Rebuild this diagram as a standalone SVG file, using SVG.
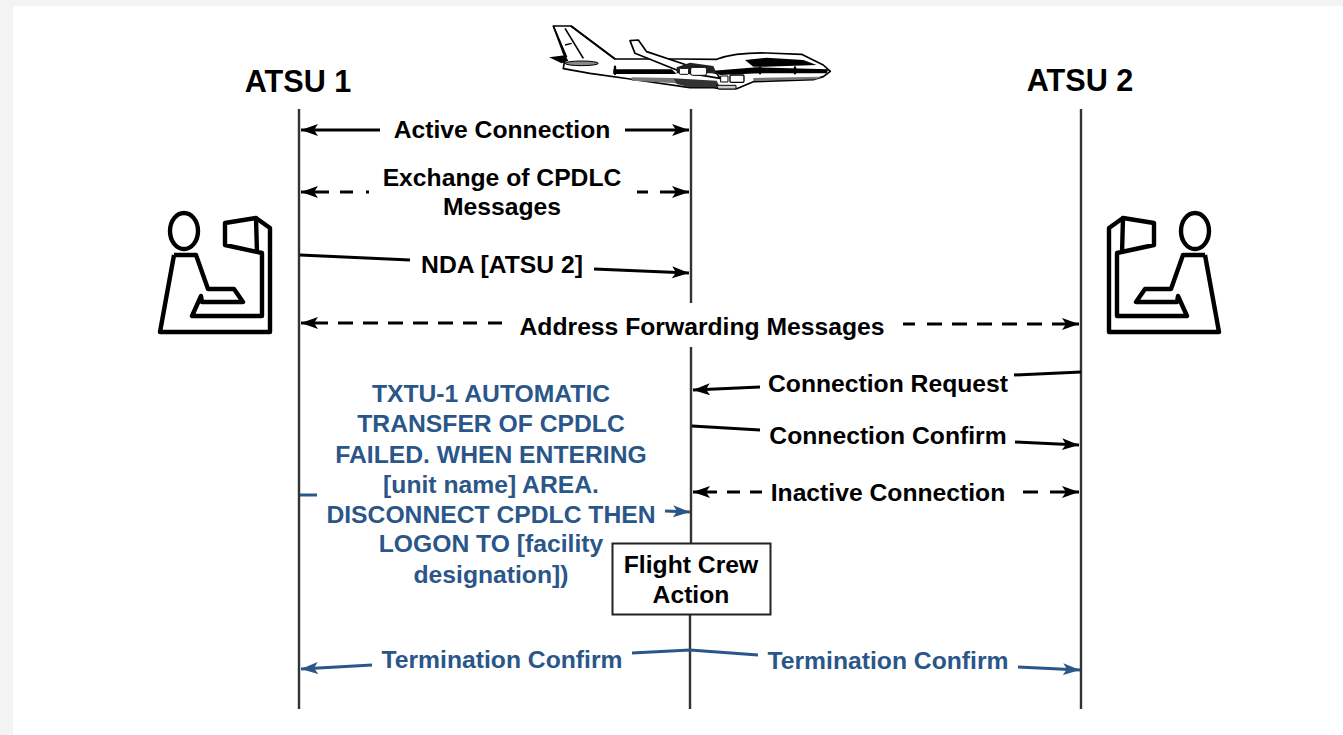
<svg xmlns="http://www.w3.org/2000/svg" width="1343" height="735" viewBox="0 0 1343 735">
<style>
text{font-family:"Liberation Sans",Arial,sans-serif;font-weight:700;text-anchor:middle}
.k{fill:#000;font-size:24.7px}
.h{fill:#000;font-size:30.6px}
.b{fill:#2a5689;font-size:24.7px}
.life{stroke:#333;stroke-width:2.4;fill:none}
.c{stroke:#000;stroke-width:3;fill:none}
.cb{stroke:#2a5689;stroke-width:3;fill:none}
.ico{stroke:#000;stroke-width:4.4;fill:none;stroke-linejoin:round}
</style>
<defs>
<marker id="a" markerUnits="userSpaceOnUse" markerWidth="18" markerHeight="14" refX="17" refY="6" orient="auto"><path d="M0 0L17 6L0 12L4 6Z" fill="#000"/></marker>
<marker id="ab" markerUnits="userSpaceOnUse" markerWidth="18" markerHeight="14" refX="17" refY="6" orient="auto"><path d="M0 0L17 6L0 12L4 6Z" fill="#2a5689"/></marker>
<g id="person">
<ellipse cx="185" cy="231" rx="14" ry="18"/>
<path d="M175 255H197L209 289H235L244 302H203L202 296L193 316H263V253L226 245V223L257 218L258 253"/>
<path d="M257 218L271 228V332H161L175 255"/>
</g>
</defs>
<rect width="1343" height="735" fill="#f3f3f3"/>
<rect x="13" y="6" width="1330" height="729" fill="#fff"/>

<g id="connectors">
<path class="life" d="M299 109V709"/>
<path class="life" d="M691 109V303M691 347V543M690 615V709"/>
<path class="life" d="M1081 109V709"/>
<path class="c" marker-end="url(#a)" d="M380 130H301"/>
<path class="c" marker-end="url(#a)" d="M625 130H689"/>
<path class="c" marker-end="url(#a)" d="M369 192H366M353 192H340M329 192H301"/>
<path class="c" marker-end="url(#a)" d="M637 192H648M660 192H689"/>
<path class="c" d="M300 255L410 260"/>
<path class="c" marker-end="url(#a)" d="M594 269L689 273"/>
<path class="c" marker-end="url(#a)" d="M502 323H488M477 323H463M453 323H438M428 323H413M403 323H388M378 323H363M353 323H338M328 323H301"/>
<path class="c" marker-end="url(#a)" d="M903 324H915M927 324H942M952 324H967M977 324H992M1002 324H1017M1027 324H1042M1052 324H1079"/>
<path class="c" marker-end="url(#a)" d="M760 387L693 390"/>
<path class="c" d="M1014 375L1081 372"/>
<path class="c" d="M692 426L760 430"/>
<path class="c" marker-end="url(#a)" d="M1015 442L1079 445"/>
<path class="c" marker-end="url(#a)" d="M762 492H750M740 492H727M717 492H693"/>
<path class="c" marker-end="url(#a)" d="M1023 492H1038M1050 492H1079"/>
<path class="cb" d="M300 495L317 495"/>
<path class="cb" marker-end="url(#ab)" d="M665 511L690 512"/>
<path class="cb" marker-end="url(#ab)" d="M372 665L301 669"/>
<path class="cb" d="M632 653L690 650L758 655"/>
<path class="cb" marker-end="url(#ab)" d="M1018 667L1080 670"/>
</g>

<g id="airplane">
<g transform="translate(530 10) scale(.3333)" stroke-linejoin="round">
<path fill="#fff" stroke="#000" stroke-width="5" d="M70 48H123L255 147H450L560 148C600 133 650 128 710 129L815 133L845 148L880 165L901 184L880 200L850 209L670 215L620 236H570L550 233H480L300 207L180 190L100 176L105 142Z"/>
<path d="M70 48L110 142M105 55L160 145M123 48L255 147" fill="none" stroke="#000" stroke-width="5"/>
<path d="M105 105L125 100" stroke="#000" stroke-width="4"/>
<path d="M57 142L105 136L115 152L95 160Z" fill="#000"/>
<ellipse cx="155" cy="160" rx="50" ry="7" fill="#888" stroke="#000" stroke-width="3"/>
<path d="M300 92L325 90L350 125L470 165L560 190L570 205L480 190L440 180L315 130Z" fill="#fff" stroke="#000" stroke-width="5"/>
<path d="M250 178H425L440 192H250Z" fill="#000"/>
<path d="M550 182L680 172L895 178L890 190L690 190L570 195Z" fill="#000"/>
<path d="M645 150L710 143L820 150L860 165L705 170L670 170Z" fill="#000"/>
<path d="M670 204L875 200L860 208L670 213Z" fill="#777"/>
<path d="M305 202L430 204L440 220L305 212Z" fill="#777"/>
<path d="M430 205L560 212L570 232L480 232L440 222Z" fill="#333"/>
<path d="M440 172L480 158L550 168L560 190L440 190Z" fill="#222"/>
<rect x="482" y="172" width="48" height="24" rx="6" fill="#fff" stroke="#000" stroke-width="3"/>
<rect x="448" y="175" width="28" height="18" rx="3" fill="#fff" stroke="#000" stroke-width="3"/>
<rect x="600" y="195" width="42" height="22" rx="4" fill="#fff" stroke="#000" stroke-width="4"/>
<rect x="572" y="198" width="22" height="18" fill="#fff" stroke="#000" stroke-width="3"/>
<path d="M560 226H618V237H565Z" fill="#ccc" stroke="#000" stroke-width="3"/>
<path d="M255 170V192M690 172V190M795 172V190" stroke="#000" stroke-width="7" fill="none" stroke-linecap="round"/>
</g>
</g>

<g id="atsu1-label"><text class="h" x="298" y="92">ATSU 1</text></g>
<g id="atsu2-label"><text class="h" x="1080" y="91">ATSU 2</text></g>

<g id="controller-1"><use href="#person" class="ico" transform="translate(-1 0)"/></g>
<g id="controller-2"><use href="#person" class="ico" transform="translate(1380 0) scale(-1 1)"/></g>

<g id="labels">
<text class="k" x="502" y="138">Active Connection</text>
<text class="k" x="502" y="186">Exchange of CPDLC</text>
<text class="k" x="502" y="215">Messages</text>
<text class="k" x="502" y="273">NDA [ATSU 2]</text>
<text class="k" x="702" y="335">Address Forwarding Messages</text>
<text class="k" x="888" y="392">Connection Request</text>
<text class="k" x="888" y="444">Connection Confirm</text>
<text class="k" x="888" y="501">Inactive Connection</text>
<text class="b" x="491" y="402">TXTU-1 AUTOMATIC</text>
<text class="b" x="491" y="432">TRANSFER OF CPDLC</text>
<text class="b" x="491" y="463">FAILED. WHEN ENTERING</text>
<text class="b" x="491" y="493">[unit name] AREA.</text>
<text class="b" x="491" y="523">DISCONNECT CPDLC THEN</text>
<text class="b" x="491" y="552">LOGON TO [facility</text>
<text class="b" x="491" y="583">designation])</text>
<text class="b" x="502" y="668">Termination Confirm</text>
<text class="b" x="888" y="669">Termination Confirm</text>
</g>

<g id="flight-crew-action">
<rect x="612.500" y="543.500" width="158" height="71" fill="#fff" stroke="#222" stroke-width="2"/>
<text class="k" x="691" y="573">Flight Crew</text>
<text class="k" x="691" y="603">Action</text>
</g>
</svg>
